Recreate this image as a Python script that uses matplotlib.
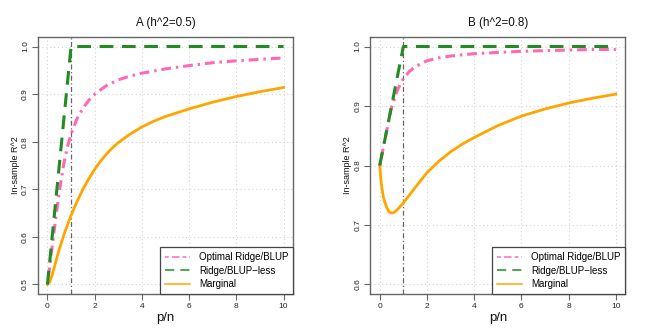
import matplotlib
matplotlib.use("Agg")
import matplotlib.pyplot as plt
from matplotlib.lines import Line2D

plt.rcParams['font.family'] = ['Liberation Sans', 'DejaVu Sans']

# values
titles = ["A (h^2=0.5)", "B (h^2=0.8)"]
ylims = [(0.5, 1.0), (0.6, 1.0)]
yticks = [[0.5, 0.6, 0.7, 0.8, 0.9, 1.0], [0.6, 0.7, 0.8, 0.9, 1.0]]
xticks = [0, 2, 4, 6, 8, 10]

# panel A
ridge_less_x_a = [0, 1, 10]
ridge_less_y_a = [0.5, 1.0, 1.0]
opt_x_a = [0, 0.1, 0.25, 0.4, 0.55, 0.7, 0.85, 1.0, 1.25, 1.5, 1.75, 2, 2.5, 3, 3.5, 4, 5, 6, 7, 8, 9, 10]
opt_y_a = [0.5, 0.54, 0.6, 0.658, 0.71, 0.756, 0.79, 0.816, 0.848, 0.87, 0.887, 0.9, 0.918, 0.93, 0.938,
           0.944, 0.953, 0.96, 0.966, 0.97, 0.973, 0.976]
marg_x_a = [0, 0.1, 0.2, 0.35, 0.5, 0.75, 1, 1.25, 1.5, 1.75, 2, 2.25, 2.5, 2.75, 3, 3.5, 4, 4.5, 5,
            6, 7, 8, 9, 10]
marg_y_a = [0.5, 0.506, 0.52, 0.547, 0.574, 0.612, 0.645, 0.674, 0.7, 0.722, 0.742, 0.759, 0.774, 0.787,
            0.798, 0.816, 0.831, 0.843, 0.853, 0.869, 0.883, 0.895, 0.905, 0.914]

# panel B
ridge_less_x_b = [0, 1, 10]
ridge_less_y_b = [0.8, 1.0, 1.0]
opt_x_b = [0, 0.25, 0.5, 0.75, 1, 1.25, 1.5, 2, 2.5, 3, 4, 5, 6, 7, 8, 9, 10]
opt_y_b = [0.8, 0.85, 0.898, 0.927, 0.946, 0.958, 0.966, 0.976, 0.981, 0.984, 0.988, 0.990, 0.992,
           0.993, 0.994, 0.995, 0.995]
marg_x_b = [0, 0.03, 0.06, 0.1, 0.15, 0.2, 0.3, 0.4, 0.5, 0.6, 0.75, 1, 1.25, 1.5, 2, 2.5, 3, 3.5, 4,
            5, 6, 7, 8, 9, 10]
marg_y_b = [0.802, 0.785, 0.772, 0.76, 0.748, 0.74, 0.729, 0.722, 0.72, 0.721, 0.726, 0.737, 0.75, 0.763,
            0.788, 0.807, 0.823, 0.836, 0.847, 0.867, 0.883, 0.895, 0.905, 0.913, 0.92]

panels = [
    (opt_x_a, opt_y_a, ridge_less_x_a, ridge_less_y_a, marg_x_a, marg_y_a),
    (opt_x_b, opt_y_b, ridge_less_x_b, ridge_less_y_b, marg_x_b, marg_y_b),
]

pink, green, orange = '#FF69B4', '#228B22', '#FFA500'
box_col = '#666666'
dotdash = (0, (0.8, 1.6, 3.2, 1.6))
dashed = (0, (4.5, 2.8))

fig = plt.figure(figsize=(6.64, 3.32), dpi=100)
lefts = [38 / 664, 370.3 / 664]

for i, (ox, oy, gx, gy, mx, my) in enumerate(panels):
    ax = fig.add_axes([lefts[i], 38 / 332, 255 / 664, 257 / 332])
    lo, hi = ylims[i]
    pad = (hi - lo) * 0.04
    ax.set_xlim(-0.4, 10.4)
    ax.set_ylim(lo - pad, hi + pad)

    # dotted grid
    for t in xticks:
        ax.axvline(t, color='#D3D3D3', lw=0.8, ls=(0, (1, 2.5)), zorder=0)
    for t in yticks[i]:
        ax.axhline(t, color='#D3D3D3', lw=0.8, ls=(0, (1, 2.5)), zorder=0)
    ax.axvline(1, color='#666666', lw=0.9, ls=(0, (4, 2, 1, 2)), zorder=1)

    ax.plot(ox, oy, color=pink, lw=2.2, ls=dotdash, zorder=3)
    ax.plot(gx, gy, color=green, lw=2.2, ls=dashed, zorder=4)
    ax.plot(mx, my, color=orange, lw=2.0, zorder=2)

    ax.set_xticks(xticks)
    ax.set_yticks(yticks[i])
    ax.set_xticklabels([str(t) for t in xticks])
    ax.set_yticklabels([f"{t:.1f}" for t in yticks[i]], rotation=90, va='center')
    ax.tick_params(colors=box_col, labelcolor='#222222', length=4, width=0.8, labelsize=6, pad=2.5)
    for s in ax.spines.values():
        s.set_color(box_col)
        s.set_linewidth(1.0)

    ax.text(0.5, 1 + 14 / 257, titles[i], transform=ax.transAxes, ha='center', va='center',
            fontsize=8.4, color='#111111')
    ax.set_xlabel("p/n", fontsize=9.5, color='#111111')
    ax.xaxis.set_label_coords(0.5, -24 / 257)
    ax.xaxis.label.set_va('center')
    ax.set_ylabel("In-sample R^2", fontsize=6.5, color='#111111')
    ax.yaxis.set_label_coords(-23 / 255, 0.5)
    ax.yaxis.label.set_va('center')

    handles = [
        Line2D([], [], color=pink, lw=1.1, ls=(0, (2.5, 2, 5, 2))),
        Line2D([], [], color=green, lw=1.1, ls=(0, (6, 4))),
        Line2D([], [], color=orange, lw=1.1),
    ]
    leg = ax.legend(handles, ["Optimal Ridge/BLUP", "Ridge/BLUP\u2212less", "Marginal"],
                    loc='lower right', bbox_to_anchor=(1, 0), borderaxespad=0, fontsize=7,
                    fancybox=False, framealpha=1, edgecolor='#444444', handlelength=2.6,
                    handletextpad=0.9, labelspacing=0.35, borderpad=0.5)
    leg.get_frame().set_linewidth(0.9)

fig.savefig("out.png", dpi=100)
